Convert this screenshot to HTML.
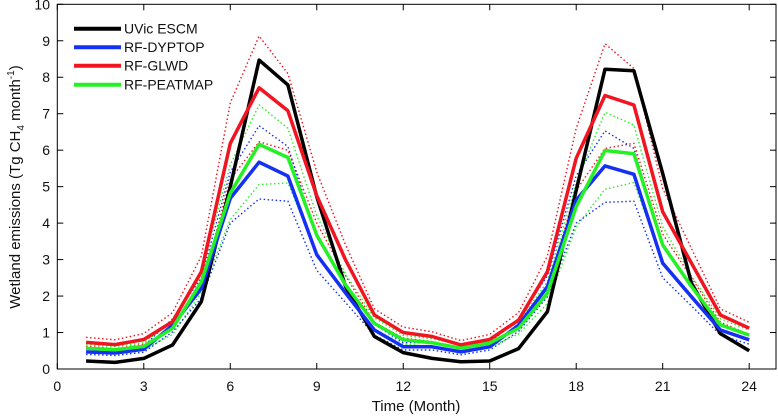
<!DOCTYPE html>
<html><head><meta charset="utf-8"><style>
body{margin:0;background:#fff}
svg{display:block;font-family:"Liberation Sans",Arial,sans-serif}
</style></head><body>
<svg id="chart" width="778" height="417" viewBox="0 0 778 417" xmlns="http://www.w3.org/2000/svg">
<g id="marks"></g>
<rect x="57.3" y="4.3" width="718.7" height="364.7" fill="none" stroke="#000" stroke-width="1"/>
<g id="axes" font-size="14" fill="#111"></g>
<text x="416" y="411" font-size="15" text-anchor="middle" fill="#111">Time (Month)</text>
<text transform="translate(20,187) rotate(-90)" font-size="15" text-anchor="middle" fill="#111">Wetland emissions (Tg CH<tspan font-size="10" dy="4">4</tspan><tspan dy="-4"> month</tspan><tspan font-size="10" dy="-6">-1</tspan><tspan dy="6">)</tspan></text>
<g font-size="14" fill="#111">
<line x1="74" y1="28.7" x2="121" y2="28.7" stroke="#000" stroke-width="4"/>
<text x="124" y="33.5">UVic ESCM</text>
<line x1="74" y1="47.3" x2="121" y2="47.3" stroke="#1530f5" stroke-width="4"/>
<text x="124" y="52">RF-DYPTOP</text>
<line x1="74" y1="65.7" x2="121" y2="65.7" stroke="#f01520" stroke-width="4"/>
<text x="124" y="70.5">RF-GLWD</text>
<line x1="74" y1="84.7" x2="121" y2="84.7" stroke="#25f025" stroke-width="4"/>
<text x="124" y="89.5">RF-PEATMAP</text>
</g>
</svg>
<script>
const months=[1,2,3,4,5,6,7,8,9,10,11,12,13,14,15,16,17,18,19,20,21,22,23,24];
const uvic=[0.22,0.18,0.29,0.66,1.85,5.0,8.47,7.79,4.72,2.26,0.89,0.45,0.29,0.2,0.22,0.56,1.57,4.9,8.22,8.18,5.36,2.35,0.97,0.5];
const glwd=[0.73,0.67,0.81,1.3,2.67,6.19,7.71,7.08,4.75,2.99,1.48,1.0,0.89,0.66,0.81,1.34,2.67,5.78,7.5,7.24,4.31,2.9,1.48,1.12];
const peatmap=[0.57,0.53,0.62,1.12,2.39,4.82,6.16,5.8,3.67,2.3,1.25,0.8,0.72,0.57,0.71,1.12,2.08,4.45,5.99,5.9,3.4,2.26,1.21,0.93];
const dyptop=[0.47,0.44,0.54,1.2,2.21,4.68,5.67,5.29,3.13,2.08,1.07,0.61,0.61,0.47,0.61,1.2,2.26,4.63,5.57,5.34,2.9,1.98,1.07,0.8];
const glwdHi=[0.87,0.8,0.97,1.55,3.1,7.3,9.13,8.1,5.4,3.4,1.65,1.15,1.02,0.78,0.95,1.55,3.1,6.6,8.92,8.24,4.95,3.3,1.65,1.28];
const glwdLo=[0.62,0.56,0.68,1.1,2.25,5.2,6.23,6.0,4.0,2.55,1.28,0.85,0.75,0.55,0.68,1.12,2.25,4.9,6.05,6.19,3.7,2.5,1.28,0.95];
const peatHi=[0.66,0.62,0.72,1.3,2.7,5.6,7.24,6.6,4.2,2.6,1.4,0.92,0.83,0.66,0.82,1.28,2.4,5.1,7.04,6.69,3.9,2.55,1.38,1.06];
const peatLo=[0.48,0.45,0.53,0.95,2.1,4.1,5.06,5.1,3.2,2.05,1.1,0.68,0.62,0.49,0.6,0.96,1.8,3.9,4.93,5.11,2.95,2.0,1.05,0.8];
const dypHi=[0.55,0.52,0.63,1.38,2.5,5.4,6.67,6.1,3.6,2.35,1.22,0.72,0.72,0.56,0.72,1.38,2.55,5.3,6.53,6.05,3.35,2.25,1.22,0.93];
const dypLo=[0.4,0.37,0.46,1.02,1.95,4.0,4.66,4.6,2.7,1.82,0.93,0.52,0.52,0.39,0.52,1.03,1.98,4.0,4.57,4.6,2.5,1.73,0.93,0.68];
const xTicks=[0,3,6,9,12,15,18,21,24];
const yTicks=[0,1,2,3,4,5,6,7,8,9,10];
const NS="http://www.w3.org/2000/svg";
const X0=57.3,X1=776,Y0=369,Y1=4.3,XMAX=24.93,YMAX=10;
function xs(v){return X0+v/XMAX*(X1-X0);}
function ys(v){return Y0-v/YMAX*(Y0-Y1);}
const marks=document.getElementById('marks'),axes=document.getElementById('axes');
function line(vals,color,w,dotted,name){
  const p=document.createElementNS(NS,'polyline');
  p.setAttribute('points',vals.map((v,i)=>xs(months[i]).toFixed(1)+','+ys(v).toFixed(1)).join(' '));
  p.setAttribute('fill','none');p.setAttribute('stroke',color);p.setAttribute('stroke-width',w);
  p.setAttribute('stroke-linejoin','round');
  if(dotted){p.setAttribute('stroke-dasharray','1.5 2.5');}
  
  
  marks.appendChild(p);
}
line(glwdHi,'#f01520',1.4,true,'glwd-upper-bound');
line(glwdLo,'#f01520',1.4,true,'glwd-lower-bound');
line(peatHi,'#25f025',1.4,true,'peatmap-upper-bound');
line(peatLo,'#25f025',1.4,true,'peatmap-lower-bound');
line(dypHi,'#1530f5',1.4,true,'dyptop-upper-bound');
line(dypLo,'#1530f5',1.4,true,'dyptop-lower-bound');
line(uvic,'#000',3.5,false,'uvic-escm-line');
line(dyptop,'#1530f5',3.5,false,'rf-dyptop-line');
line(glwd,'#f01520',3.5,false,'rf-glwd-line');
line(peatmap,'#25f025',3.5,false,'rf-peatmap-line');
xTicks.forEach(t=>{
  const x=xs(t);
  [[Y0,Y0-6],[Y1,Y1+6]].forEach(a=>{const l=document.createElementNS(NS,'line');l.setAttribute('x1',x);l.setAttribute('x2',x);l.setAttribute('y1',a[0]);l.setAttribute('y2',a[1]);l.setAttribute('stroke','#000');
  
  
  axes.appendChild(l);});
  const tx=document.createElementNS(NS,'text');tx.setAttribute('x',x);tx.setAttribute('y',391);tx.setAttribute('text-anchor','middle');tx.textContent=t;
  
  
  axes.appendChild(tx);
});
yTicks.forEach(t=>{
  const y=ys(t);
  [[X0,X0+6],[X1,X1-6]].forEach(a=>{const l=document.createElementNS(NS,'line');l.setAttribute('x1',a[0]);l.setAttribute('x2',a[1]);l.setAttribute('y1',y);l.setAttribute('y2',y);l.setAttribute('stroke','#000');
  
  
  axes.appendChild(l);});
  const tx=document.createElementNS(NS,'text');tx.setAttribute('x',50);tx.setAttribute('y',y+5);tx.setAttribute('text-anchor','end');tx.textContent=t;
  
  
  axes.appendChild(tx);
});
</script>
</body></html>
